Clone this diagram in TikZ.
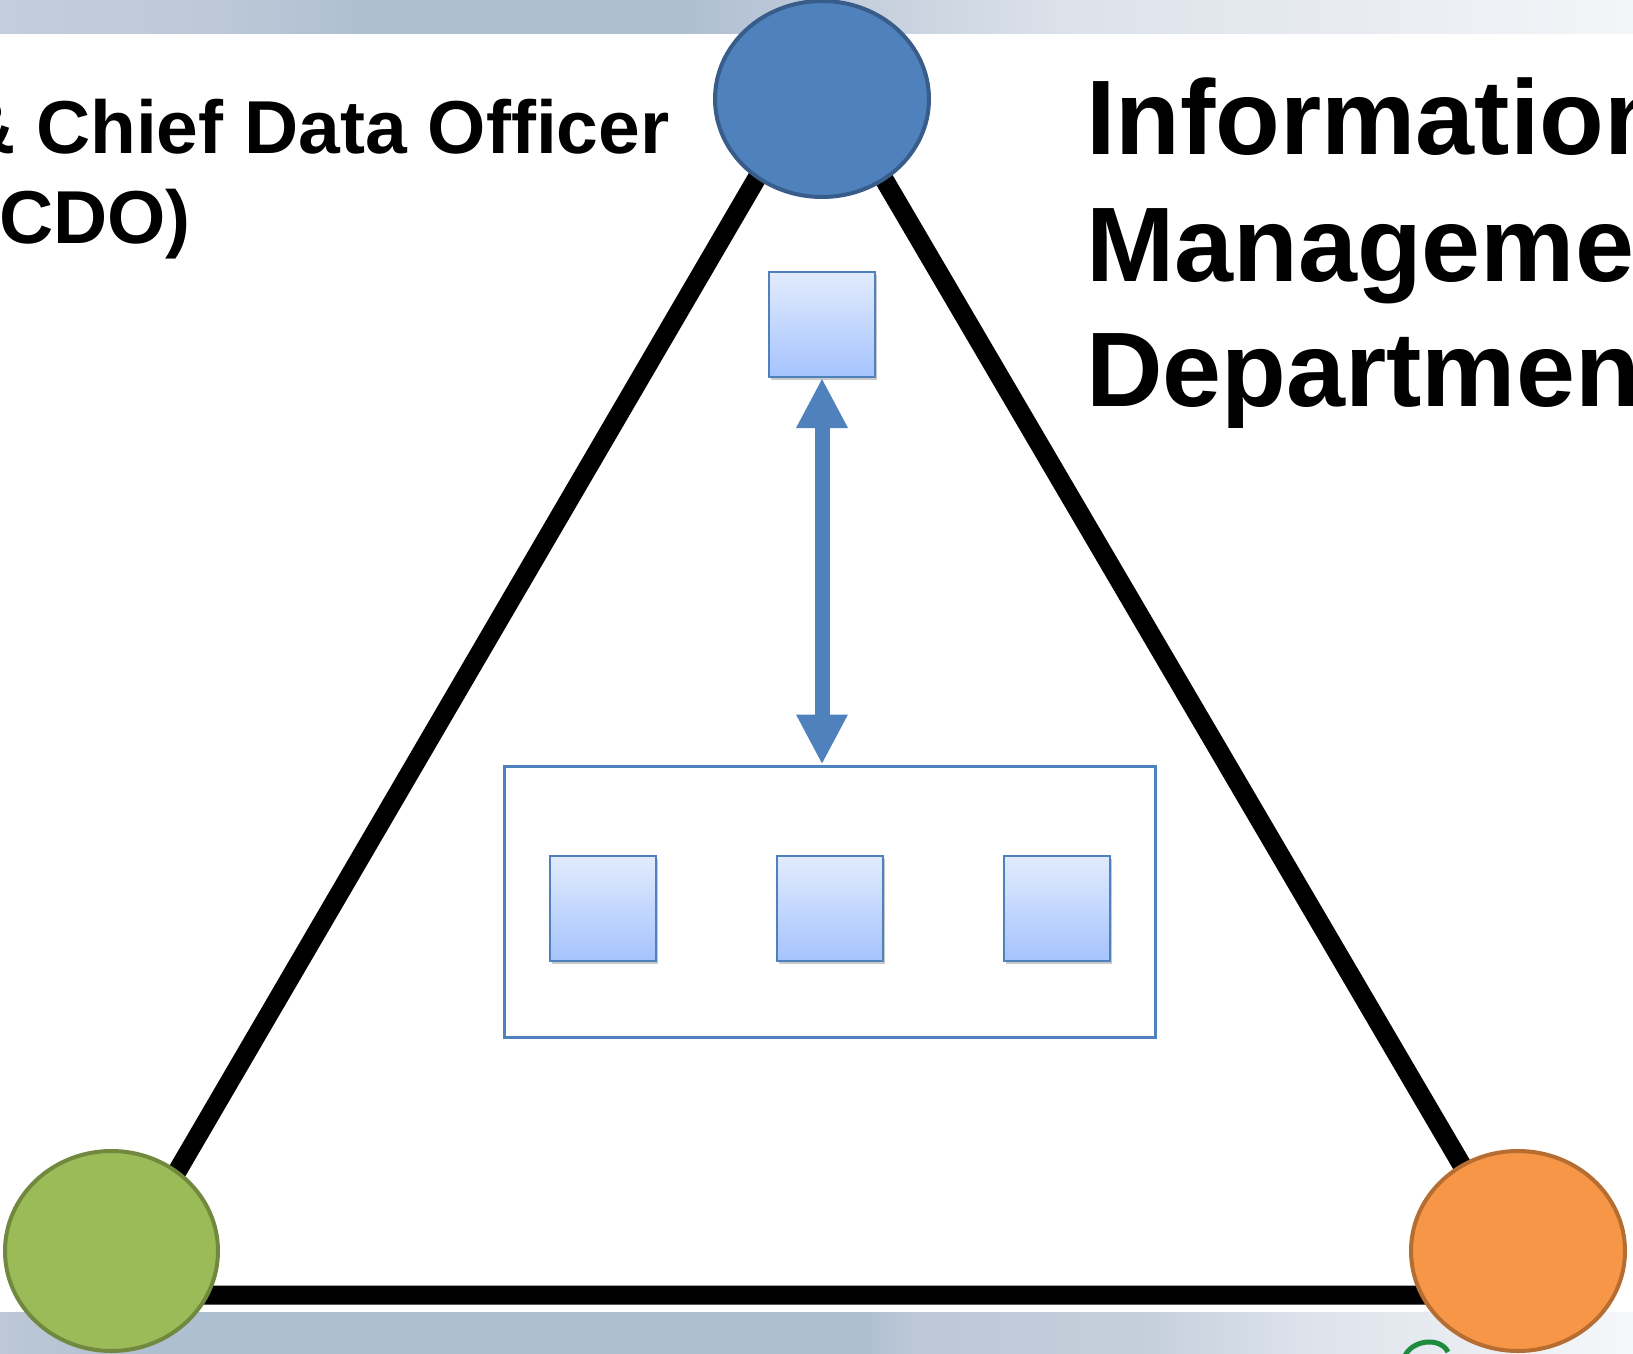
\documentclass[tikz,border=0pt]{standalone}
\usepackage{fontspec}
\setmainfont{Liberation Sans}
\usetikzlibrary{shapes.geometric,arrows.meta,shadows}
\definecolor{blueF}{HTML}{4F81BD}
\definecolor{blueD}{HTML}{385D8A}
\definecolor{greenF}{HTML}{9BBB59}
\definecolor{greenD}{HTML}{71893F}
\definecolor{orangeF}{HTML}{F79646}
\definecolor{orangeD}{HTML}{B66D31}
\definecolor{sqTop}{HTML}{E2EBFD}
\definecolor{sqBot}{HTML}{A5C3FD}
\definecolor{tb0}{HTML}{C3CEDC}
\definecolor{tb1}{HTML}{BDC9D8}
\definecolor{tb2}{HTML}{AFBFD2}
\definecolor{tb3}{HTML}{BFCAD9}
\definecolor{tb4}{HTML}{DCE2EA}
\definecolor{tb5}{HTML}{F3F5F8}
\definecolor{bb0}{HTML}{BCC8D7}
\definecolor{bb1}{HTML}{AFBFD2}
\definecolor{bb2}{HTML}{BCC8D7}
\definecolor{bb3}{HTML}{C5CFDC}
\definecolor{bb4}{HTML}{DDE3EB}
\definecolor{bb5}{HTML}{F5F7FA}
\definecolor{logoG}{HTML}{1E8C3F}
\pgfdeclarehorizontalshading{topband}{100bp}{color(0bp)=(tb0); color(25bp)=(tb0); color(31.5bp)=(tb1); color(36bp)=(tb2); color(46bp)=(tb2); color(50bp)=(tb3); color(57.5bp)=(tb4); color(75bp)=(tb5); color(100bp)=(tb5)}
\pgfdeclarehorizontalshading{botband}{100bp}{color(0bp)=(bb0); color(25bp)=(bb0); color(29.5bp)=(bb1); color(51.5bp)=(bb1); color(53bp)=(bb2); color(60bp)=(bb3); color(65bp)=(bb4); color(75bp)=(bb5); color(100bp)=(bb5)}
\tikzset{
  tri/.style={draw=black, line width=19pt, line join=round},
  blob/.style={ellipse, inner sep=0pt, line width=4pt},
  sqbox/.style={rectangle, inner sep=0pt, minimum width=106pt, minimum height=105pt,
    draw=blueF, line width=2pt, top color=sqTop, bottom color=sqBot,
    drop shadow={shadow xshift=2pt, shadow yshift=-3pt, opacity=0.35, fill=black!60}},
  groupbox/.style={rectangle, inner sep=0pt, minimum width=651pt, minimum height=271pt,
    draw=blueF, line width=3pt, fill=white},
  dblarrow/.style={draw=blueF, line width=15pt,
    {Triangle[width=48pt,length=50pt]}-{Triangle[width=48pt,length=50pt]}},
  lblsmall/.style={inner sep=0pt, anchor=base west, font=\fontsize{75}{90}\selectfont\bfseries},
  lblbig/.style={inner sep=0pt, anchor=base west, font=\fontsize{106}{126}\selectfont\bfseries}
}
\begin{document}
\begin{tikzpicture}[x=1pt,y=-1pt]
\useasboundingbox (0,0) rectangle (1633,1354);
\clip (0,0) rectangle (1633,1354);
\fill[white] (0,0) rectangle (1633,1354);
% bands
\shade[shading=topband] (0,0) rectangle (1633,34);
\shade[shading=botband] (0,1312) rectangle (1633,1354);
\draw[logoG, line width=5pt] (1404,1358) .. controls (1410,1340) and (1440,1336) .. (1448,1352);
% triangle
\coordinate (A) at (820,70);
\coordinate (B) at (105,1295);
\coordinate (C) at (1538,1295);
\draw[tri] (A) -- (B) -- (C) -- cycle;
% ellipses
\node[blob, fill=blueF, draw=blueD, minimum width=214pt, minimum height=196pt] (topc) at (822,99) {};
\node[blob, fill=greenF, draw=greenD, minimum width=213pt, minimum height=200pt] (leftc) at (111.5,1251) {};
\node[blob, fill=orangeF, draw=orangeD, minimum width=214pt, minimum height=200pt] (rightc) at (1518,1251) {};
% group box and squares
\node[groupbox] (grp) at (829.5,901.5) {};
\node[sqbox] (s1) at (603,908.5) {};
\node[sqbox] (s2) at (830,908.5) {};
\node[sqbox] (s3) at (1057,908.5) {};
\node[sqbox] (top) at (822,324.5) {};
\draw[dblarrow] (top.south) -- (top.south |- grp.north);
% texts
\node[lblsmall] (cdo1) at (-39,153) {\& Chief Data Officer};
\node[lblsmall] (cdo2) at (-26,243) {(CDO)};
\node[lblbig] (im1) at (1086,154) {Information};
\node[lblbig] (im2) at (1086,281) {Management};
\node[lblbig] (im3) at (1086,406) {Department};
\end{tikzpicture}
\end{document}
